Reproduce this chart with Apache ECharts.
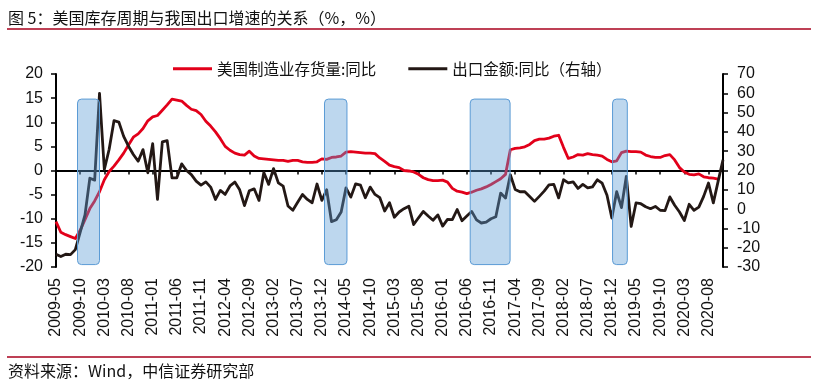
<!DOCTYPE html>
<html>
<head>
<meta charset="utf-8">
<script src="https://cdn.jsdelivr.net/npm/echarts@6/dist/echarts.min.js"></script>
<style>
html,body{margin:0;padding:0;background:#fff;}
#c{width:818px;height:385px;}
</style>
</head>
<body>
<div id="c"></div>
<script>
// ---- data ----
var startYear = 2009, startMonth = 5, monthCount = 139; // 2009-05 .. 2020-11
var categories = [];
for (var k = 0; k < monthCount; k++) {
  var m = startMonth - 1 + k;
  var yy = startYear + Math.floor(m / 12);
  var mm = (m % 12) + 1;
  categories.push(yy + '-' + (mm < 10 ? '0' + mm : '' + mm));
}

// 美国制造业存货量:同比 (left axis, %)
var usInventory = [
  -10.6, -12.8, -13.3, -13.7, -14.1, -12.4, -10.2, -7.9, -6.3, -4.4,
  -1.9, -0.2, 0.9, 2.2, 3.6, 5.3, 6.9, 7.6, 8.7, 10.3,
  11.1, 11.4, 12.5, 13.6, 14.8, 14.6, 14.4, 13.5, 12.7, 12.4,
  11.6, 10.2, 9.2, 8.0, 6.6, 5.0, 4.2, 3.6, 3.3, 3.2,
  4.0, 3.0, 2.5, 2.4, 2.3, 2.2, 2.1, 2.1, 1.9, 2.1,
  2.1, 1.8, 1.7, 1.7, 1.8, 2.4, 2.3, 2.7, 2.8, 3.0,
  3.8, 3.9, 3.8, 3.7, 3.6, 3.6, 3.5, 2.6, 1.9, 1.1,
  0.8, 0.6, 0.0, -0.1, -0.3, -0.8, -1.5, -1.9, -2.1, -2.1,
  -2.0, -2.4, -3.7, -4.3, -4.5, -4.8, -4.5, -4.1, -3.8, -3.4,
  -2.9, -2.3, -1.7, -0.8, 4.3, 4.6, 4.7, 4.9, 5.4, 6.2,
  6.5, 6.5, 6.7, 7.1, 7.3, 4.8, 2.5, 2.8, 3.3, 3.2,
  3.5, 3.3, 3.2, 3.0, 2.3, 1.8, 2.0, 3.7, 4.0, 3.9,
  3.9, 3.8, 3.2, 2.9, 2.7, 2.7, 3.1, 3.3, 2.2, 0.6,
  -0.3, -0.8, -0.9, -0.7, -1.3, -1.5, -1.6, -1.8, null
];

// 出口金额:同比 (right axis, %)
var chinaExports = [
  -23.4, -24.6, -23.4, -23.6, -21.0, -12.0, -3.0, 16.0, 15.0, 60.0,
  20.5, 31.0, 45.8, 45.1, 37.7, 32.6, 28.3, 24.8, 30.8, 18.8,
  33.9, 5.0, 34.8, 35.5, 16.2, 16.2, 23.4, 20.0, 17.9, 14.5,
  12.4, 14.1, 11.4, 5.0, 9.7, 7.6, 12.0, 14.0, 10.0, 1.8,
  9.5, 10.5, 4.5, 19.0, 12.8, 21.0, 13.6, 11.9, 1.6, -0.6,
  3.5, 7.6, 5.0, 3.3, 13.0, 4.5, 10.0, -6.5, -5.5, -1.5,
  11.0, 6.2, 13.1, 12.4, 5.9, 11.4, 7.6, 5.9, -1.0, 3.3,
  -4.2, -1.5, 0.2, 1.5, -8.0, -4.5, -1.2, -3.6, -5.8, -3.0,
  -8.8, -5.3, -5.5, -0.2, -6.0, -3.6, -1.2, -5.6, -7.2, -6.8,
  -5.0, -4.0, 8.3, 5.7, 17.8, 10.2, 9.0, 9.0, 6.5, 4.0,
  6.6, 9.3, 12.6, 12.8, 5.8, 15.2, 13.6, 14.1, 10.7, 12.8,
  11.0, 11.5, 15.2, 13.4, 7.2, -4.6, 9.0, 0.8, 17.0, -9.0,
  3.2, 2.8, 1.2, 0.2, 1.4, -0.6, -0.8, 6.3, 2.0, -1.5,
  -5.9, 2.5, -0.6, 1.0, 6.6, 13.5, 3.2, 14.5, 25.5
];

// shaded periods: [start month index, end month index, bottom (left axis), top (left axis)]
var shadedPeriods = [
  [4.45, 9.0, -19.5, 14.8],
  [55.55, 60.2, -19.5, 14.8],
  [85.7, 93.95, -19.5, 14.8],
  [115.15, 118.2, -19.5, 14.8]
];

var leftTicks = { min: -20, max: 20, interval: 5 };
var rightTicks = { min: -30, max: 70, interval: 10 };

var seriesNames = ['美国制造业存货量:同比', '出口金额:同比（右轴）'];
var titleText = '图 5：美国库存周期与我国出口增速的关系（%，%）';
var sourceText = '资料来源：Wind，中信证券研究部';

// ---- chart ----
var chart = echarts.init(document.getElementById('c'), null, { renderer: 'canvas' });
var numFont = 'Liberation Sans';
var cjkFont = '"Noto Sans CJK SC"';
var ruleColor = '#A8001C';

var option = {
  animation: false,
  backgroundColor: '#ffffff',
  grid: { left: 56, right: 95, top: 74, bottom: 118, containLabel: false },
  legend: {
    data: [
      { name: seriesNames[0], icon: 'rect' },
      { name: seriesNames[1], icon: 'rect' }
    ],
    left: 168,
    top: 56,
    itemWidth: 39,
    itemHeight: 3,
    itemGap: 32,
    textStyle: { fontFamily: cjkFont, fontSize: 15.5, color: '#111' }
  },
  xAxis: [
    {
      type: 'category',
      data: categories,
      boundaryGap: false,
      position: 'bottom',
      axisLine: { show: false, onZero: false },
      axisTick: { show: false },
      axisLabel: {
        interval: 4,
        rotate: 90,
        margin: 11,
        fontFamily: numFont,
        fontSize: 16,
        color: '#111'
      },
      splitLine: { show: false }
    },
    {
      type: 'category',
      data: categories,
      boundaryGap: false,
      position: 'bottom',
      axisLine: { show: true, onZero: true, onZeroAxisIndex: 0, lineStyle: { color: '#000', width: 2 } },
      axisTick: { show: true, interval: 4, length: 4, lineStyle: { color: '#000', width: 1.5 } },
      axisLabel: { show: false },
      splitLine: { show: false }
    },
    {
      type: 'value',
      min: 0,
      max: monthCount - 1,
      show: false,
      axisLine: { onZero: false },
      splitLine: { show: false }
    }
  ],
  yAxis: [
    {
      type: 'value',
      position: 'left',
      min: leftTicks.min, max: leftTicks.max, interval: leftTicks.interval,
      axisLine: { show: true, onZero: false, lineStyle: { color: '#000', width: 2 } },
      axisTick: { show: true, length: 5, lineStyle: { color: '#000', width: 1.5 } },
      axisLabel: { margin: 13, fontFamily: numFont, fontSize: 16, color: '#111' },
      splitLine: { show: false }
    },
    {
      type: 'value',
      position: 'right',
      min: rightTicks.min, max: rightTicks.max, interval: rightTicks.interval,
      axisLine: { show: true, onZero: false, lineStyle: { color: '#000', width: 2 } },
      axisTick: { show: true, length: 5, lineStyle: { color: '#000', width: 1.5 } },
      axisLabel: { margin: 14, fontFamily: numFont, fontSize: 16, color: '#111' },
      splitLine: { show: false }
    }
  ],
  series: [
    {
      name: seriesNames[0],
      type: 'line',
      xAxisIndex: 0,
      yAxisIndex: 0,
      data: usInventory,
      symbol: 'none',
      connectNulls: false,
      lineStyle: { color: '#E2001A', width: 2.8, join: 'round' },
      itemStyle: { color: '#E2001A' },
      z: 3
    },
    {
      name: seriesNames[1],
      type: 'line',
      xAxisIndex: 0,
      yAxisIndex: 1,
      data: chinaExports,
      symbol: 'none',
      lineStyle: { color: '#231815', width: 2.8, join: 'round' },
      itemStyle: { color: '#231815' },
      z: 4
    },
    {
      name: 'shade',
      type: 'custom',
      xAxisIndex: 2,
      yAxisIndex: 0,
      data: shadedPeriods,
      encode: { x: [0, 1], y: [2, 3] },
      z: 10,
      silent: true,
      renderItem: function (params, api) {
        var p0 = api.coord([api.value(0), api.value(3)]);
        var p1 = api.coord([api.value(1), api.value(2)]);
        return {
          type: 'rect',
          shape: { x: p0[0], y: p0[1], width: p1[0] - p0[0], height: p1[1] - p0[1], r: 4 },
          style: { fill: 'rgba(91,155,213,0.4)', stroke: '#5B9BD5', lineWidth: 1 }
        };
      }
    }
  ],
  graphic: [
    {
      type: 'text', left: 8, top: 10,
      style: { text: titleText, font: '16px ' + cjkFont, fill: '#111' }
    },
    {
      type: 'line',
      shape: { x1: 7, y1: 29, x2: 811, y2: 29 },
      style: { stroke: ruleColor, lineWidth: 1.5 }
    },
    {
      type: 'line',
      shape: { x1: 7, y1: 357, x2: 811, y2: 357 },
      style: { stroke: ruleColor, lineWidth: 1.5 }
    },
    {
      type: 'text', left: 8, top: 363,
      style: { text: sourceText, font: '16px ' + cjkFont, fill: '#111' }
    }
  ]
};
chart.setOption(option);
</script>
</body>
</html>
